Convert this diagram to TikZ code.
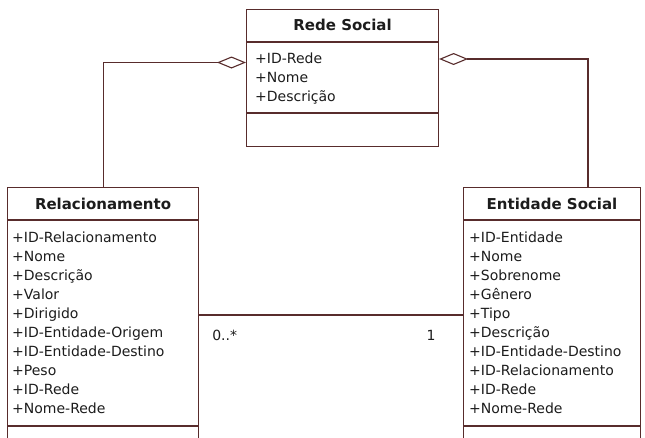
\documentclass[tikz,border=0pt]{standalone}
\usepackage{fontspec}
\setmainfont{DejaVu Sans}
\usetikzlibrary{arrows.meta,calc}
\definecolor{umlbrown}{RGB}{88,44,44}
\definecolor{umltext}{RGB}{28,28,28}
\tikzset{
  classbox/.style={draw=umlbrown, line width=1.1pt, fill=white, rectangle, inner sep=0pt, anchor=north west},
  compartment/.style={draw=umlbrown, line width=1.1pt},
  classname/.style={font=\fontsize{15}{18}\selectfont\bfseries, text=umltext, inner sep=0pt},
  attrlist/.style={font=\fontsize{14}{19}\selectfont, text=umltext, align=left, inner sep=0pt, anchor=north west},
  assocline/.style={draw=umlbrown, line width=1.1pt},
  aggline/.style={assocline, -{Diamond[fill=white, length=29pt, width=12pt]}},
  mult/.style={font=\fontsize{14}{17}\selectfont, text=umltext, inner sep=0pt},
}
\begin{document}
\begin{tikzpicture}[x=1pt,y=-1pt]
\useasboundingbox (0,0) rectangle (645,437);
\fill[white] (0,0) rectangle (645,437);
\clip (0,0) rectangle (645,437);

% Rede Social
\node[classbox, minimum width=192pt, minimum height=137pt] (rede) at (246,9) {};
\draw[compartment] ($(rede.north west)+(0,33)$) -- ($(rede.north east)+(0,33)$);
\draw[compartment] ($(rede.north west)+(0,104)$) -- ($(rede.north east)+(0,104)$);
\node[classname] (redeName) at ($(rede.north)+(0,16)$) {Rede Social};
\node[attrlist] (redeAttrs) at ($(rede.north west)+(9,43.5)$) {+ID-Rede\\+Nome\\+Descrição};

% Relacionamento
\node[classbox, minimum width=191pt, minimum height=280pt] (rel) at (7,187) {};
\draw[compartment] ($(rel.north west)+(0,33)$) -- ($(rel.north east)+(0,33)$);
\draw[compartment] ($(rel.north west)+(0,239)$) -- ($(rel.north east)+(0,239)$);
\node[classname] (relName) at ($(rel.north)+(0,17)$) {Relacionamento};
\node[attrlist] (relAttrs) at ($(rel.north west)+(5,45)$) {+ID-Relacionamento\\+Nome\\+Descrição\\+Valor\\+Dirigido\\+ID-Entidade-Origem\\+ID-Entidade-Destino\\+Peso\\+ID-Rede\\+Nome-Rede};

% Entidade Social
\node[classbox, minimum width=177pt, minimum height=280pt] (ent) at (463,187) {};
\draw[compartment] ($(ent.north west)+(0,33)$) -- ($(ent.north east)+(0,33)$);
\draw[compartment] ($(ent.north west)+(0,239)$) -- ($(ent.north east)+(0,239)$);
\node[classname] (entName) at ($(ent.north)+(0,17)$) {Entidade Social};
\node[attrlist] (entAttrs) at ($(ent.north west)+(6,45)$) {+ID-Entidade\\+Nome\\+Sobrenome\\+Gênero\\+Tipo\\+Descrição\\+ID-Entidade-Destino\\+ID-Relacionamento\\+ID-Rede\\+Nome-Rede};

% Aggregations into Rede Social
\coordinate (redeLeftTap) at ($(rede.north west)+(0,53.5)$);
\coordinate (redeRightTap) at ($(rede.north east)+(0,50)$);
\coordinate (entTop) at ($(ent.north west)+(125,0)$);
\draw[aggline] (rel.north) |- (redeLeftTap);
\draw[aggline] (entTop) |- (redeRightTap);

% Association Relacionamento -- Entidade Social
\coordinate (assocY) at (0,315);
\coordinate (relEnd) at (rel.north east |- assocY);
\coordinate (entEnd) at (ent.north west |- assocY);
\draw[assocline] (relEnd) -- (entEnd);
\node[mult, anchor=west] (multMany) at ($(relEnd)+(13,20)$) {0..*};
\node[mult] (multOne) at ($(entEnd)+(-32,20)$) {1};
\end{tikzpicture}
\end{document}
